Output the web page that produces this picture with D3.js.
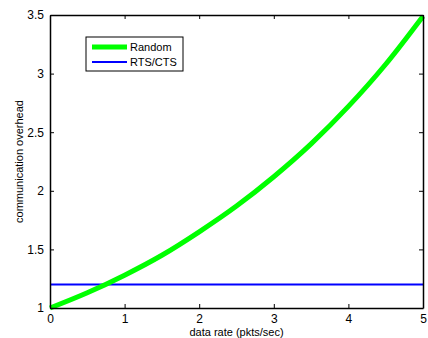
<!DOCTYPE html>
<html>
<head>
<meta charset="utf-8">
<script src="https://cdn.jsdelivr.net/npm/d3@7"></script>
<style>
  body { margin: 0; background: #fff; }
  svg text { font-family: "Liberation Sans", Arial, sans-serif; }
</style>
</head>
<body>
<svg id="chart" width="428" height="338"></svg>
<script>
// data
const rates = [0, 0.5, 1, 1.5, 2, 2.5, 3, 3.5, 4, 4.5, 5];
const randomOverhead = [1.00, 1.13, 1.28, 1.45, 1.65, 1.87, 2.12, 2.40, 2.72, 3.08, 3.49];
const rtsOverhead = [1.2, 1.2];
const rtsRates = [0, 5];
const xTicks = [0, 1, 2, 3, 4, 5];
const yTicks = [1, 1.5, 2, 2.5, 3, 3.5];
const seriesNames = ['Random', 'RTS/CTS'];

const plotLeft = 50, plotRight = 423, plotTop = 15, plotBottom = 308;

const x = d3.scaleLinear().domain([0, 5]).range([plotLeft, plotRight]);
const y = d3.scaleLinear().domain([1, 3.5]).range([plotBottom, plotTop]);

const svg = d3.select('#chart');

// curves (drawn before the box so axes sit on top)
const line = d3.line()
  .x(d => x(d[0]))
  .y(d => y(d[1]))
  .curve(d3.curveMonotoneX);

svg.append('path')
  .datum(rtsRates.map((r, i) => [r, rtsOverhead[i]]))
  .attr('d', line)
  .attr('fill', 'none')
  .attr('stroke', '#0000ff')
  .attr('stroke-width', 2);

svg.append('path')
  .datum(rates.map((r, i) => [r, randomOverhead[i]]))
  .attr('d', line)
  .attr('fill', 'none')
  .attr('stroke', '#00ff00')
  .attr('stroke-width', 5);

// axes, MATLAB style: inward ticks on all sides
const tickLen = 4;
const xAxis = d3.axisBottom(x).tickValues(xTicks).tickFormat(d3.format('d'))
  .tickSizeInner(-tickLen).tickSizeOuter(0).tickPadding(6);
const yAxis = d3.axisLeft(y).tickValues(yTicks).tickFormat(d => d)
  .tickSizeInner(-tickLen).tickSizeOuter(0).tickPadding(6);
const xTop = d3.axisTop(x).tickValues(xTicks).tickFormat('')
  .tickSizeInner(-tickLen).tickSizeOuter(0);
const yRight = d3.axisRight(y).tickValues(yTicks).tickFormat('')
  .tickSizeInner(-tickLen).tickSizeOuter(0);

svg.append('g').attr('transform', 'translate(0,' + plotBottom + ')').call(xAxis);
svg.append('g').attr('transform', 'translate(' + plotLeft + ',0)').call(yAxis);
svg.append('g').attr('transform', 'translate(0,' + plotTop + ')').call(xTop);
svg.append('g').attr('transform', 'translate(' + plotRight + ',0)').call(yRight);

svg.selectAll('.domain').attr('stroke', '#000').attr('stroke-width', 1.5);
svg.selectAll('.tick line').attr('stroke', '#000');
svg.selectAll('.tick text').attr('font-size', 12).attr('fill', '#000')
  .attr('font-family', '"Liberation Sans", Arial, sans-serif');

// axis labels
svg.append('text')
  .attr('x', x(2.5))
  .attr('y', 336)
  .attr('text-anchor', 'middle')
  .attr('font-size', 11)
  .text('data rate (pkts/sec)');

svg.append('text')
  .attr('transform', 'translate(23,' + ((plotTop + plotBottom) / 2) + ') rotate(-90)')
  .attr('text-anchor', 'middle')
  .attr('font-size', 11)
  .text('communication overhead');

// legend
const legend = svg.append('g').attr('transform', 'translate(86,37)');
legend.append('rect')
  .attr('width', 97).attr('height', 34)
  .attr('fill', '#fff').attr('stroke', '#000').attr('stroke-width', 1);
const colors = ['#00ff00', '#0000ff'];
const widths = [5, 2];
seriesNames.forEach((name, i) => {
  const ly = 10 + i * 15;
  legend.append('line')
    .attr('x1', 6).attr('x2', 41).attr('y1', ly).attr('y2', ly)
    .attr('stroke', colors[i]).attr('stroke-width', widths[i]);
  legend.append('text')
    .attr('x', 44).attr('y', ly + 4)
    .attr('font-size', 11)
    .text(name);
});
</script>
</body>
</html>
